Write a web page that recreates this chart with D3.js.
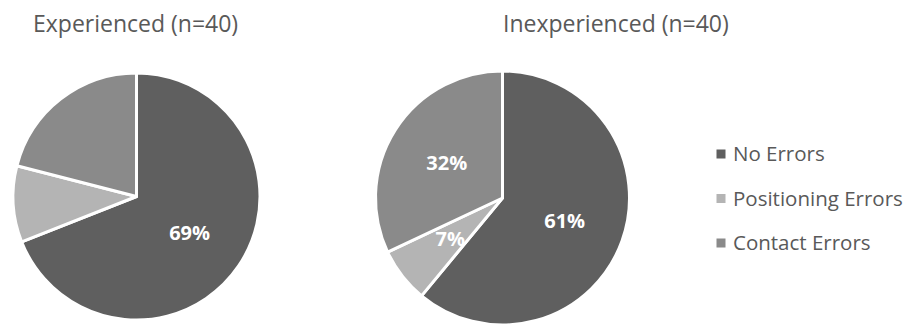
<!DOCTYPE html>
<html>
<head>
<meta charset="utf-8">
<script src="https://cdn.jsdelivr.net/npm/d3@7"></script>
<style>
  html, body { margin: 0; padding: 0; background: #ffffff; }
  svg text { font-family: "Open Sans", "DejaVu Sans", sans-serif; }
</style>
</head>
<body>
<svg id="chart" width="909" height="324"></svg>
<script>
// Error categories shared by both groups
const categories = ["No Errors", "Positioning Errors", "Contact Errors"];
const colors = ["#5f5f5f", "#b4b4b4", "#8a8a8a"];

// Group titles
const groupTitles = ["Experienced (n=40)", "Inexperienced (n=40)"];

// Percentage of trials per category, per group
const experiencedValues = [69, 10, 21];
const inexperiencedValues = [61, 7, 32];

// Which slices carry a printed percentage
const experiencedLabeled = [true, false, false];
const inexperiencedLabeled = [true, true, true];

const svg = d3.select("#chart");

const pies = [
  { title: groupTitles[0], values: experiencedValues, labeled: experiencedLabeled,
    cx: 136.5, cy: 196.5, r: 123.5, titleX: 33 },
  { title: groupTitles[1], values: inexperiencedValues, labeled: inexperiencedLabeled,
    cx: 502.5, cy: 198, r: 127, titleX: 503 }
];

const pieLayout = d3.pie().sort(null).value(d => d.value);

pies.forEach(p => {
  const data = categories.map((c, i) => ({ cat: c, value: p.values[i], labeled: p.labeled[i], idx: i }));
  const arcs = pieLayout(data);
  const arc = d3.arc().innerRadius(0).outerRadius(p.r);
  const labelArc = d3.arc().innerRadius(p.r * 0.52).outerRadius(p.r * 0.52);

  const g = svg.append("g").attr("transform", `translate(${p.cx},${p.cy})`);

  g.selectAll("path")
    .data(arcs)
    .join("path")
    .attr("d", arc)
    .attr("fill", d => colors[d.data.idx])
    .attr("stroke", "#ffffff")
    .attr("stroke-width", 3)
    .attr("stroke-linejoin", "round");

  g.selectAll("text.pct")
    .data(arcs.filter(d => d.data.labeled))
    .join("text")
    .attr("class", "pct")
    .attr("transform", d => `translate(${labelArc.centroid(d)})`)
    .attr("text-anchor", "middle")
    .attr("dy", "0.36em")
    .attr("fill", "#ffffff")
    .attr("font-weight", "bold")
    .attr("font-size", 20)
    .text(d => d.data.value + "%");

  svg.append("text")
    .attr("x", p.titleX)
    .attr("y", 32)
    .attr("fill", "#595959")
    .attr("font-size", 23)
    .text(p.title);
});

// Legend
const legend = svg.append("g").attr("transform", "translate(716,154)");
const item = legend.selectAll("g")
  .data(categories)
  .join("g")
  .attr("transform", (d, i) => `translate(0,${i * 44.5})`);

item.append("rect")
  .attr("x", 0.5)
  .attr("y", -4.5)
  .attr("width", 9)
  .attr("height", 9)
  .attr("fill", (d, i) => colors[i]);

item.append("text")
  .attr("x", 17)
  .attr("y", 0)
  .attr("dy", "0.36em")
  .attr("fill", "#595959")
  .attr("font-size", 20.5)
  .text(d => d);
</script>
</body>
</html>
